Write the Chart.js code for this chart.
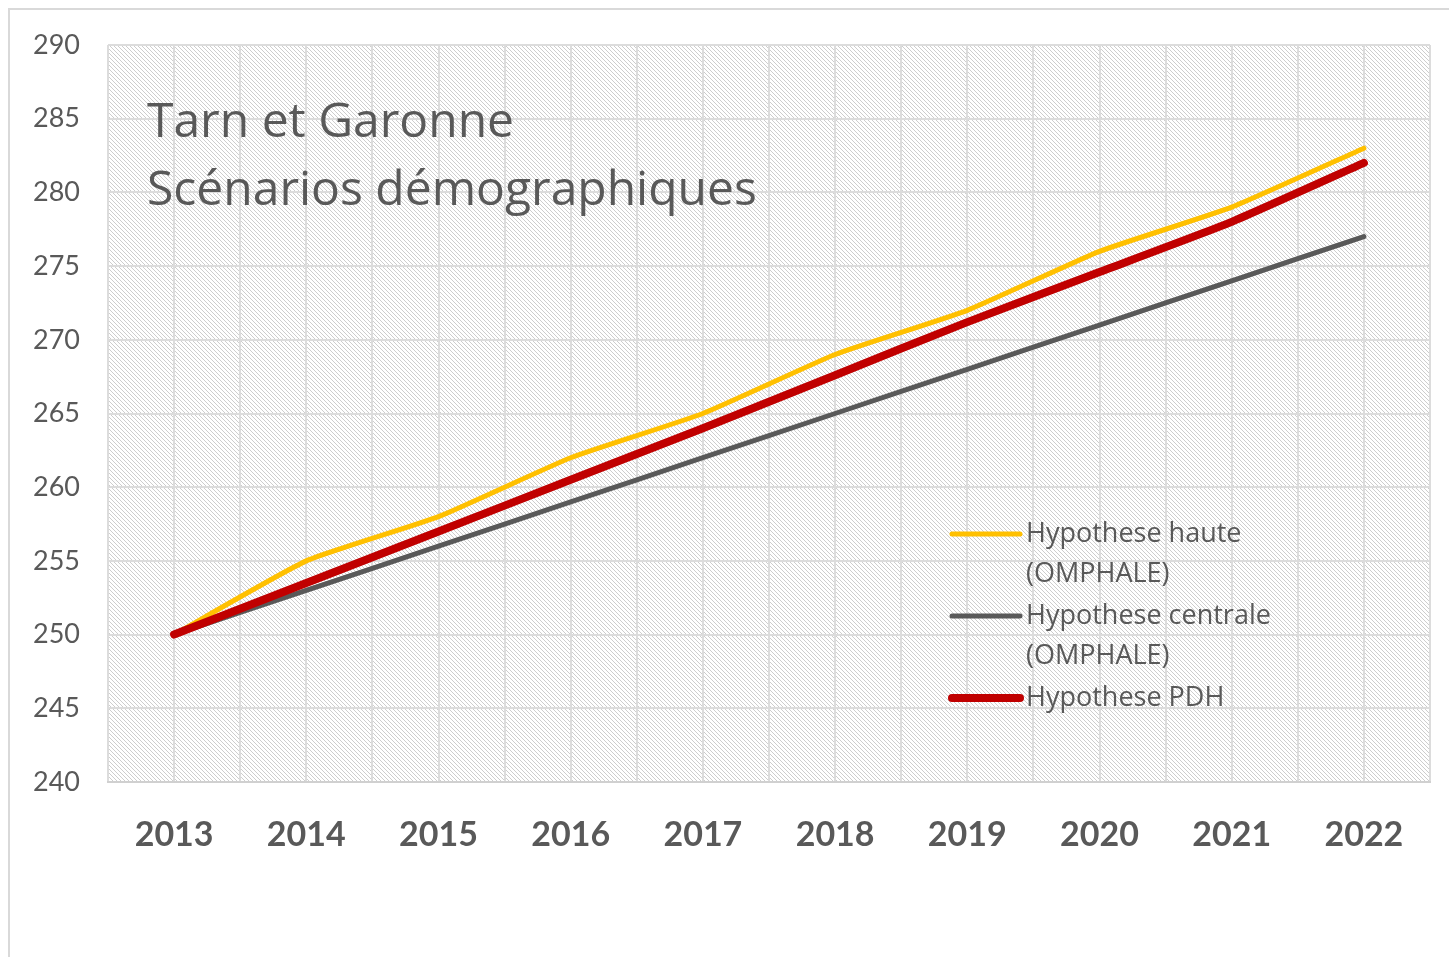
<!DOCTYPE html>
<html>
<head>
<meta charset="utf-8">
<script src="https://cdn.jsdelivr.net/npm/chart.js@4"></script>
<style>
  html, body { margin: 0; padding: 0; background: #fff; overflow: hidden; }
  #frame { position: absolute; left: 8px; top: 8px; width: 1500px; height: 1000px;
           border: 2px solid #d9d9d9; box-sizing: border-box; }
  #wrap { position: absolute; left: 0; top: 0; width: 1449px; height: 957px; }
</style>
</head>
<body>
<div id="frame"></div>
<div id="wrap"><canvas id="chart"></canvas></div>
<script>
// --- data ---
const years      = [2013, 2014, 2015, 2016, 2017, 2018, 2019, 2020, 2021, 2022];
const haute      = [250, 255, 258, 262, 265, 269, 272, 276, 279, 283];
const centrale   = [250, 253, 256, 259, 262, 265, 268, 271, 274, 277];
const pdh        = [250, 253.5, 257, 260.5, 264, 267.6, 271.2, 274.6, 278, 282];
const yTicks     = [240, 245, 250, 255, 260, 265, 270, 275, 280, 285, 290];
const titleLines = ['Tarn et Garonne', 'Scénarios démographiques'];
const legendItems = [
  { lines: ['Hypothese haute', '(OMPHALE)'],    color: '#FFC000', width: 5 },
  { lines: ['Hypothese centrale', '(OMPHALE)'], color: '#595959', width: 5 },
  { lines: ['Hypothese PDH'],                   color: '#C00000', width: 8 }
];

const FONT  = 'Lato, "Open Sans", sans-serif';
const FONT2 = '"Open Sans", Lato, sans-serif';
const TXT   = '#595959';

const pts = arr => years.map((y, i) => ({ x: y, y: arr[i] }));

// hatch pattern for the plot area
function makeHatch() {
  const c = document.createElement('canvas');
  c.width = 4; c.height = 4;
  const g = c.getContext('2d');
  g.fillStyle = '#ffffff';
  g.fillRect(0, 0, 4, 4);
  g.strokeStyle = '#cdcdcd';
  g.lineWidth = 1;
  g.beginPath();
  g.moveTo(-1, -1); g.lineTo(5, 5);
  g.moveTo(-1, 3);  g.lineTo(1, 5);
  g.moveTo(3, -1);  g.lineTo(5, 1);
  g.stroke();
  return g.createPattern(c, 'repeat');
}

const hatchPlugin = {
  id: 'hatch',
  beforeDraw(chart) {
    const { ctx, chartArea: a } = chart;
    ctx.save();
    ctx.fillStyle = makeHatch();
    ctx.fillRect(a.left, a.top, a.right - a.left, a.bottom - a.top);
    ctx.restore();
  }
};

// title + legend drawn inside the plot
const overlayPlugin = {
  id: 'overlay',
  afterDraw(chart) {
    const { ctx } = chart;
    ctx.save();
    ctx.fillStyle = TXT;
    ctx.textBaseline = 'alphabetic';
    ctx.font = '48px ' + FONT2;
    ctx.fillText(titleLines[0], 147, 137);
    ctx.fillText(titleLines[1], 147, 205);

    ctx.font = '27px ' + FONT2;
    ctx.textBaseline = 'middle';
    let y = 534;
    legendItems.forEach(it => {
      ctx.strokeStyle = it.color;
      ctx.lineWidth = it.width;
      ctx.lineCap = 'round';
      ctx.beginPath();
      ctx.moveTo(952, y); ctx.lineTo(1020, y);
      ctx.stroke();
      it.lines.forEach((t, k) => ctx.fillText(t, 1026, y + k * 40));
      y += it.lines.length * 40 + 2;
    });
    ctx.restore();
  }
};

new Chart(document.getElementById('chart'), {
  type: 'line',
  data: {
    datasets: [
      { label: legendItems[0].lines.join(' '), data: pts(haute),    borderColor: '#FFC000', borderWidth: 5, order: 1 },
      { label: legendItems[1].lines.join(' '), data: pts(centrale), borderColor: '#595959', borderWidth: 5, order: 2 },
      { label: legendItems[2].lines.join(' '), data: pts(pdh),      borderColor: '#C00000', borderWidth: 8, order: 0 }
    ]
  },
  options: {
    responsive: true,
    maintainAspectRatio: false,
    animation: false,
    layout: { padding: { top: 45, right: 19, bottom: 0, left: 0 } },
    elements: {
      point: { radius: 0 },
      line: { tension: 0.15, borderCapStyle: 'round', borderJoinStyle: 'round', fill: false }
    },
    plugins: { legend: { display: false }, tooltip: { enabled: false } },
    scales: {
      x: {
        type: 'linear',
        min: years[0] - 0.5,
        max: years[years.length - 1] + 0.5,
        afterBuildTicks: s => {
          const t = [];
          for (let v = years[0] - 0.5; v <= years[years.length - 1] + 0.5; v += 0.5) t.push({ value: v });
          s.ticks = t;
        },
        afterFit: s => { s.height = 957 - 782; s.paddingLeft = 0; s.paddingRight = 0; },
        grid: { color: '#dcdcdc', lineWidth: 2, drawTicks: false },
        border: { color: '#d0d0d0', width: 2 },
        ticks: {
          autoSkip: false, maxRotation: 0, padding: 33,
          color: TXT, font: { family: FONT, size: 34, weight: 'bold' },
          callback: v => years.includes(v) ? String(v) : ''
        }
      },
      y: {
        min: yTicks[0],
        max: yTicks[yTicks.length - 1],
        afterBuildTicks: s => { s.ticks = yTicks.map(v => ({ value: v })); },
        afterFit: s => { s.width = 108; },
        grid: { color: '#dcdcdc', lineWidth: 2, drawTicks: false },
        border: { display: false },
        ticks: { padding: 28, color: TXT, font: { family: FONT, size: 27 } }
      }
    }
  },
  plugins: [hatchPlugin, overlayPlugin]
});
</script>
</body>
</html>
